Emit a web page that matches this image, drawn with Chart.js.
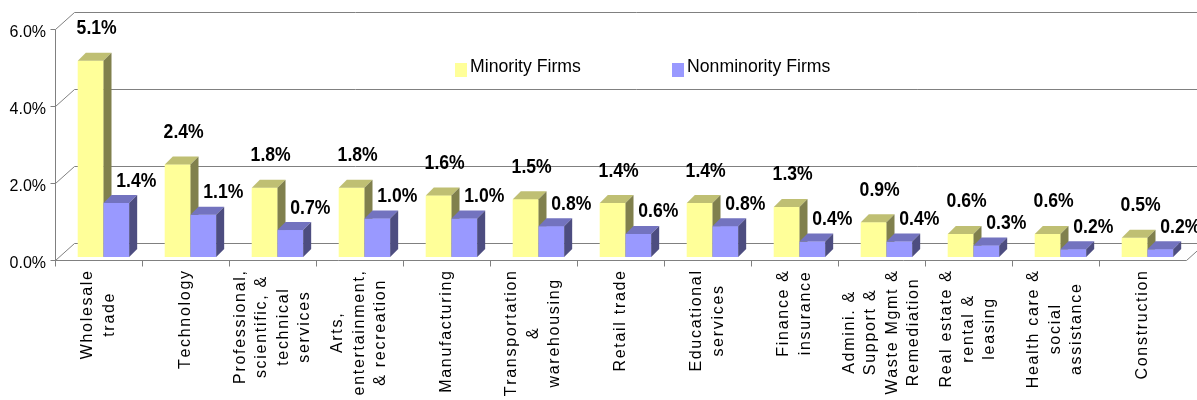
<!DOCTYPE html>
<html>
<head>
<meta charset="utf-8">
<script src="https://cdn.jsdelivr.net/npm/chart.js@4/dist/chart.umd.min.js"></script>
<style>
  body { margin: 0; background: #fff; }
  canvas { display: block; }
</style>
</head>
<body>
<canvas id="myChart" width="1197" height="400"></canvas>
<script>
// categorias (cada linha do rótulo em um item)
const categorias = [
  ['Wholesale', 'trade'],
  ['Technology'],
  ['Professional,', 'scientific, &', 'technical', 'services'],
  ['Arts,', 'entertainment,', '& recreation'],
  ['Manufacturing'],
  ['Transportation', '&', 'warehousing'],
  ['Retail trade'],
  ['Educational', 'services'],
  ['Finance &', 'insurance'],
  ['Admini. &', 'Support &', 'Waste Mgmt &', 'Remediation'],
  ['Real estate &', 'rental &', 'leasing'],
  ['Health care &', 'social', 'assistance'],
  ['Construction']
];
const minorityFirms = [5.1, 2.4, 1.8, 1.8, 1.6, 1.5, 1.4, 1.4, 1.3, 0.9, 0.6, 0.6, 0.5];
const nonminorityFirms = [1.4, 1.1, 0.7, 1.0, 1.0, 0.8, 0.6, 0.8, 0.4, 0.4, 0.3, 0.2, 0.2];
const yTicks = [0, 2, 4, 6];

const FONTE = "'Liberation Sans', Arial, sans-serif";
const FRENTE = { dx: -5, dy: 3 };   // plano da frente (eixos)
const FUNDO = { dx: 14, dy: -14 };  // parede do fundo
const PROF = { dx: 8, dy: -8 };     // profundidade das barras
const ESPACO = 1.7;                 // espaçamento entre letras nas categorias

function linha(ctx, x1, y1, x2, y2) {
  ctx.beginPath();
  ctx.moveTo(Math.round(x1) + 0.5, Math.round(y1) + 0.5);
  ctx.lineTo(Math.round(x2) + 0.5, Math.round(y2) + 0.5);
  ctx.stroke();
}

function texto(ctx, s, x, y, font, sx, align) {
  ctx.save();
  ctx.translate(x, y);
  ctx.scale(sx, 1);
  ctx.font = font;
  ctx.textAlign = align;
  ctx.textBaseline = 'middle';
  ctx.fillStyle = '#000';
  ctx.fillText(s, 0, 0);
  ctx.restore();
}

function larguraEspacada(ctx, s) {
  let w = 0;
  for (const c of s) w += ctx.measureText(c).width;
  return w + ESPACO * (s.length - 1);
}

function poligono(ctx, pts, cor) {
  ctx.beginPath();
  ctx.moveTo(pts[0][0], pts[0][1]);
  for (let i = 1; i < pts.length; i++) ctx.lineTo(pts[i][0], pts[i][1]);
  ctx.closePath();
  ctx.fillStyle = cor;
  ctx.fill();
}

const grafico3d = {
  id: 'grafico3d',
  beforeDatasetsDraw(chart) {
    const ctx = chart.ctx, a = chart.chartArea, y = chart.scales.y, x = chart.scales.x;
    ctx.save();
    ctx.strokeStyle = '#808080';
    ctx.lineWidth = 1;
    yTicks.forEach(v => {
      const py = y.getPixelForValue(v);
      const fx = a.left + FRENTE.dx, fy = py + FRENTE.dy;
      const bx = a.left + FUNDO.dx, by = py + FUNDO.dy;
      linha(ctx, fx, fy, bx, by);
      linha(ctx, bx, by, a.right + FUNDO.dx, by);
      linha(ctx, fx - 5, fy, fx, fy);
    });
    const y0f = y.getPixelForValue(0) + FRENTE.dy;
    const y0b = y.getPixelForValue(0) + FUNDO.dy;
    const yTopo = y.getPixelForValue(yTicks[yTicks.length - 1]) + FRENTE.dy;
    linha(ctx, a.left + FRENTE.dx, y0f + 6, a.left + FRENTE.dx, yTopo);
    linha(ctx, a.left + FRENTE.dx, y0f, a.right + FRENTE.dx, y0f);
    linha(ctx, a.right + FRENTE.dx, y0f, a.right + FUNDO.dx, y0b);
    const w = (a.right - a.left) / categorias.length;
    for (let i = 1; i < categorias.length; i++) {
      const px = x.getPixelForValue(i) - w / 2 + FRENTE.dx;
      linha(ctx, px, y0f, px, y0f + 6);
    }
    ctx.restore();
  },
  afterDatasetsDraw(chart) {
    const ctx = chart.ctx, a = chart.chartArea, y = chart.scales.y, x = chart.scales.x;
    const metas = chart.data.datasets.map((d, i) => chart.getDatasetMeta(i));
    ctx.save();
    // barras 3D
    for (let i = 0; i < categorias.length; i++) {
      metas.forEach((meta, d) => {
        const ds = chart.data.datasets[d];
        const b = meta.data[i].getProps(['x', 'y', 'base', 'width'], true);
        const l = b.x - b.width / 2, r = b.x + b.width / 2;
        poligono(ctx, [[l, b.y], [r, b.y], [r, b.base], [l, b.base]], ds.backgroundColor);
        poligono(ctx, [[l, b.y], [l + PROF.dx, b.y + PROF.dy], [r + PROF.dx, b.y + PROF.dy], [r, b.y]], ds.corTopo);
        poligono(ctx, [[r, b.y], [r + PROF.dx, b.y + PROF.dy], [r + PROF.dx, b.base + PROF.dy], [r, b.base]], ds.corLado);
      });
    }
    // rótulos dos valores
    metas.forEach((meta, d) => {
      const ds = chart.data.datasets[d];
      meta.data.forEach((bar, i) => {
        const b = bar.getProps(['x', 'y'], true);
        const off = d === 0 ? { dx: 6, dy: -32 } : { dx: 20, dy: -22 };
        texto(ctx, ds.data[i].toFixed(1) + '%', b.x + off.dx, b.y + off.dy, 'bold 20px ' + FONTE, 0.88, 'center');
      });
    });
    // rótulos do eixo y
    yTicks.forEach(v => {
      const py = y.getPixelForValue(v) + FRENTE.dy;
      texto(ctx, v.toFixed(1) + '%', a.left + FRENTE.dx - 9, py + 4, '16px ' + FONTE, 1, 'right');
    });
    // rótulos das categorias (rotacionados, com letras espaçadas)
    const y0f = y.getPixelForValue(0) + FRENTE.dy;
    ctx.font = '16px ' + FONTE;
    ctx.fillStyle = '#000';
    categorias.forEach((linhas, i) => {
      const cx = x.getPixelForValue(i) + FRENTE.dx;
      const maxW = Math.max(...linhas.map(s => larguraEspacada(ctx, s)));
      ctx.save();
      ctx.translate(cx, y0f + 11);
      ctx.rotate(-Math.PI / 2);
      ctx.textAlign = 'left';
      ctx.textBaseline = 'middle';
      linhas.forEach((s, j) => {
        let px = -maxW / 2 - larguraEspacada(ctx, s) / 2;
        const py = (j - (linhas.length - 1) / 2) * 21.5;
        for (const c of s) {
          ctx.fillText(c, px, py);
          px += ctx.measureText(c).width + ESPACO;
        }
      });
      ctx.restore();
    });
    // legenda
    const legX = [455, 672];
    chart.data.datasets.forEach((ds, d) => {
      ctx.fillStyle = ds.backgroundColor;
      ctx.fillRect(legX[d], 63, 12, 14);
      texto(ctx, ds.label, legX[d] + 15, 67, '19px ' + FONTE, 0.93, 'left');
    });
    ctx.restore();
  }
};

const ctx = document.getElementById('myChart').getContext('2d');

new Chart(ctx, {
  type: 'bar',
  data: {
    labels: categorias,
    datasets: [
      {
        label: 'Minority Firms',
        data: minorityFirms,
        backgroundColor: '#FFFF99',
        corTopo: '#BFBF73',
        corLado: '#80804D',
        borderWidth: 0
      },
      {
        label: 'Nonminority Firms',
        data: nonminorityFirms,
        backgroundColor: '#9999FF',
        corTopo: '#7373BF',
        corLado: '#4D4D80',
        borderWidth: 0
      }
    ]
  },
  options: {
    responsive: false,
    animation: false,
    layout: { padding: { left: 60, right: 6, top: 26, bottom: 143 } },
    datasets: { bar: { categoryPercentage: 0.59, barPercentage: 1.0 } },
    scales: {
      x: { display: false },
      y: { display: false, min: 0, max: 6 }
    },
    plugins: {
      legend: { display: false },
      tooltip: { enabled: false }
    }
  },
  plugins: [grafico3d]
});
</script>
</body>
</html>
